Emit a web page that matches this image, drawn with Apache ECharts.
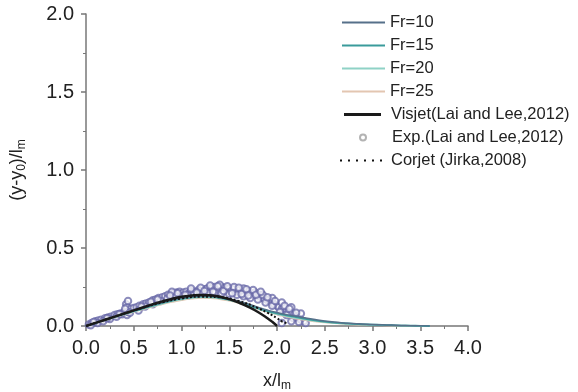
<!DOCTYPE html>
<html>
<head>
<meta charset="utf-8">
<style>html,body{margin:0;padding:0;width:578px;height:392px;background:#fff;overflow:hidden;}#chart{width:578px;height:392px;}</style>
<script src="https://cdn.jsdelivr.net/npm/echarts@6/dist/echarts.min.js"></script>
</head>
<body>
<div id="chart"></div>
<script>
// curves sampled at x steps of 0.1
const frX = [0,0.1,0.2,0.3,0.4,0.5,0.6,0.7,0.8,0.9,1.0,1.1,1.2,1.3,1.4,1.5,1.6,1.7,1.8,1.9,2.0,2.1,2.2,2.3,2.4,2.5,2.6,2.7,2.8,2.9,3.0,3.1,3.2,3.3,3.4,3.5,3.6];
const fr10 = [0,0.02,0.04,0.059,0.078,0.097,0.116,0.134,0.151,0.166,0.178,0.187,0.192,0.191,0.185,0.174,0.159,0.141,0.121,0.102,0.086,0.073,0.062,0.051,0.041,0.032,0.025,0.02,0.016,0.013,0.01,0.008,0.006,0.004,0.002,0.001,0];
const fr15 = [0,0.019,0.039,0.058,0.077,0.095,0.113,0.131,0.148,0.163,0.175,0.184,0.189,0.188,0.181,0.169,0.153,0.134,0.114,0.096,0.081,0.068,0.057,0.046,0.036,0.028,0.022,0.018,0.014,0.011,0.009,0.007,0.005,0.003,0.002,0.001,0];
const fr20 = [0,0.019,0.038,0.056,0.075,0.093,0.11,0.127,0.143,0.158,0.17,0.179,0.184,0.183,0.177,0.165,0.149,0.13,0.11,0.092,0.076,0.063,0.051,0.041,0.032,0.025,0.019,0.015,0.011,0.009,0.007,0.005,0.004,0.003,0.002,0.001,0];
const fr25 = [0,0.018,0.037,0.055,0.073,0.09,0.107,0.123,0.139,0.153,0.165,0.174,0.179,0.178,0.172,0.161,0.146,0.127,0.107,0.089,0.073,0.059,0.047,0.037,0.029,0.022,0.017,0.013,0.01,0.008,0.006,0.005,0.003,0.002,0.001,0.001,0];

const visX = [0,0.1,0.2,0.3,0.4,0.5,0.6,0.7,0.8,0.9,1.0,1.1,1.2,1.3,1.4,1.5,1.6,1.7,1.8,1.9,1.95,2.0];
const visY = [0,0.02,0.04,0.06,0.08,0.10,0.12,0.14,0.158,0.174,0.187,0.195,0.199,0.197,0.188,0.172,0.15,0.123,0.09,0.05,0.027,0];

const corX = [0,0.2,0.4,0.6,0.8,1.0,1.2,1.4,1.6,1.8,1.9,2.0,2.05,2.1];
const corY = [0,0.04,0.08,0.118,0.152,0.176,0.188,0.184,0.16,0.115,0.085,0.05,0.03,0.018];

const expX = [0.03,0.06,0.1,0.13,0.16,0.2,0.23,0.26,0.3,0.33,0.36,0.4,0.42,0.43,0.44,0.45,0.47,0.5,0.53,0.56,0.6,0.63,0.66,0.7,0.73,0.76,0.8,0.83,0.86,0.9,0.92,0.95,0.98,1.0,1.02,1.05,1.08,1.1,1.12,1.15,1.18,1.2,1.22,1.25,1.27,1.3,1.32,1.35,1.37,1.4,1.42,1.45,1.47,1.5,1.52,1.55,1.57,1.6,1.62,1.65,1.67,1.7,1.72,1.75,1.77,1.8,1.82,1.85,1.87,1.9,1.92,1.95,1.97,2.0,2.02,2.05,2.07,2.1,2.12,2.15,2.18,2.2,2.22,2.25,2.28,
  0.05,0.12,0.18,0.25,0.32,0.38,0.43,0.44,0.55,0.62,0.7,0.78,0.85,0.93,1.0,1.07,1.13,1.2,1.28,1.35,1.42,1.5,1.58,1.65,1.72,1.8,1.88,1.95,2.03,2.1,2.17,2.23,2.3,2.05,2.15,
  0.9,1.1,1.2,1.3,1.4,1.55,1.65,1.75,1.85,1.95,2.05,2.15,2.25,
  0.08,0.22,0.35,0.41,0.46,0.58,0.68,0.75,0.88,0.96,1.04,1.16,1.24,1.33,1.38,1.44,1.48,1.53,1.6,1.63,1.68,1.7,1.78,1.83,1.9,1.98,2.08,2.13,2.2];
const expY = [0.01,0.02,0.03,0.035,0.04,0.05,0.055,0.06,0.07,0.075,0.08,0.09,0.14,0.12,0.16,0.1,0.11,0.115,0.12,0.13,0.14,0.145,0.15,0.165,0.17,0.18,0.185,0.19,0.2,0.205,0.21,0.215,0.22,0.205,0.215,0.22,0.21,0.225,0.215,0.22,0.23,0.225,0.215,0.235,0.24,0.23,0.245,0.25,0.235,0.24,0.25,0.245,0.23,0.24,0.225,0.235,0.22,0.23,0.215,0.22,0.205,0.225,0.21,0.2,0.215,0.19,0.2,0.18,0.175,0.165,0.17,0.15,0.14,0.13,0.12,0.11,0.12,0.1,0.09,0.08,0.07,0.06,0.05,0.04,0.03,
  0.005,0.02,0.03,0.045,0.06,0.075,0.07,0.09,0.1,0.125,0.14,0.16,0.175,0.19,0.19,0.195,0.2,0.205,0.21,0.215,0.21,0.205,0.2,0.19,0.18,0.17,0.15,0.13,0.09,0.07,0.05,0.025,0.02,0.02,0.03,
  0.22,0.24,0.245,0.26,0.265,0.25,0.24,0.23,0.2,0.18,0.15,0.12,0.08,
  0.025,0.05,0.075,0.11,0.085,0.125,0.155,0.17,0.195,0.21,0.2,0.215,0.225,0.22,0.255,0.225,0.255,0.21,0.245,0.205,0.235,0.195,0.2,0.22,0.185,0.16,0.13,0.11,0.085];

const xTicks = [0,0.5,1.0,1.5,2.0,2.5,3.0,3.5,4.0];
const yTicks = [0,0.5,1.0,1.5,2.0];

const zip = (xs, ys) => xs.map((x, i) => [x, ys[i]]);
const font = '"Liberation Sans", Arial, sans-serif';
const axisColor = '#777';
const legendText = { fontSize: 16.5, color: '#222', fontFamily: font, lineHeight: 17 };
const dottedIcon = 'path://M0,0h2v2h-2z M8,0h2v2h-2z M16,0h2v2h-2z M24,0h2v2h-2z M32,0h2v2h-2z M40,0h2v2h-2z';
const nameStyle = {
  fontSize: 18, color: '#222', fontFamily: font,
  rich: { sub: { fontSize: 12, color: '#222', fontFamily: font, verticalAlign: 'bottom', padding: [9, 0, 0, 0] } }
};

const lineSeries = (name, xs, ys, color, width, type) => ({
  name, type: 'line', data: zip(xs, ys), symbol: 'none', smooth: true,
  lineStyle: { color, width, type: type || 'solid' }, itemStyle: { color },
  z: 3
});

const chart = echarts.init(document.getElementById('chart'), null, { renderer: 'canvas' });
chart.setOption({
  animation: false,
  backgroundColor: '#fff',
  textStyle: { fontFamily: font },
  grid: { left: 86, right: 110, top: 14, bottom: 66, containLabel: false, outerBoundsMode: 'none' },
  xAxis: {
    type: 'value', min: 0, max: 4, interval: 0.5,
    name: 'x/l{sub|m}', nameLocation: 'middle', nameGap: 45, nameTextStyle: nameStyle,
    axisLine: { show: true, lineStyle: { color: axisColor, width: 1.5 } },
    axisTick: { show: true, length: 5, lineStyle: { color: axisColor, width: 1.5 } },
    minorTick: { show: true, splitNumber: 2, length: 3, lineStyle: { color: axisColor } },
    splitLine: { show: false },
    axisLabel: { fontSize: 20, color: '#222', margin: 12, fontFamily: font,
      formatter: v => xTicks.includes(v) ? v.toFixed(1) : '' }
  },
  yAxis: {
    type: 'value', min: 0, max: 2, interval: 0.5,
    name: '(y-y{sub|0})/l{sub|m}', nameLocation: 'middle', nameGap: 58, nameRotate: 90, nameTextStyle: nameStyle,
    axisLine: { show: true, lineStyle: { color: axisColor, width: 1.5 } },
    axisTick: { show: true, length: 5, lineStyle: { color: axisColor, width: 1.5 } },
    minorTick: { show: true, splitNumber: 2, length: 3, lineStyle: { color: axisColor } },
    splitLine: { show: false },
    axisLabel: { fontSize: 20, color: '#222', margin: 12, fontFamily: font,
      formatter: v => yTicks.includes(v) ? v.toFixed(1) : '' }
  },
  legend: [
    {
      orient: 'vertical', left: 337, top: 9, itemWidth: 43, itemHeight: 2, itemGap: 6,
      icon: 'rect', textStyle: legendText,
      data: ['Fr=10', 'Fr=15', 'Fr=20', 'Fr=25']
    },
    {
      orient: 'vertical', left: 339, top: 101, itemWidth: 37, itemHeight: 3, itemGap: 6,
      icon: 'rect', textStyle: Object.assign({}, legendText, { padding: [0, 0, 0, 5] }),
      data: ['Visjet(Lai and Lee,2012)']
    },
    {
      orient: 'vertical', left: 354, top: 124, itemWidth: 6, itemHeight: 6, itemGap: 6,
      textStyle: Object.assign({}, legendText, { padding: [0, 0, 0, 21] }),
      data: [{ name: 'Exp.(Lai and Lee,2012)', icon: 'emptyCircle', itemStyle: { color: '#999', borderColor: '#999', borderWidth: 1 } }]
    },
    {
      orient: 'vertical', left: 335, top: 147, itemWidth: 42, itemHeight: 2, itemGap: 6,
      icon: dottedIcon, textStyle: Object.assign({}, legendText, { padding: [0, 0, 0, 4] }),
      data: ['Corjet (Jirka,2008)']
    }
  ],
  series: [
    {
      name: 'Exp.(Lai and Lee,2012)', type: 'scatter', data: zip(expX, expY),
      symbol: 'emptyCircle', symbolSize: 6.5,
      itemStyle: { color: '#6566a6', borderColor: '#6566a6', borderWidth: 0.8, opacity: 0.75 },
      z: 2
    },
    lineSeries('Fr=25', frX, fr25, '#e3c6b1', 1.5),
    lineSeries('Fr=20', frX, fr20, '#8fd2c6', 1.5),
    lineSeries('Fr=15', frX, fr15, '#3a9b9b', 1.8),
    lineSeries('Fr=10', frX, fr10, '#56708a', 1.5),
    lineSeries('Corjet (Jirka,2008)', corX, corY, '#111', 2, 'dotted'),
    lineSeries('Visjet(Lai and Lee,2012)', visX, visY, '#1a1a1a', 2.5)
  ]
});
</script>
</body>
</html>
